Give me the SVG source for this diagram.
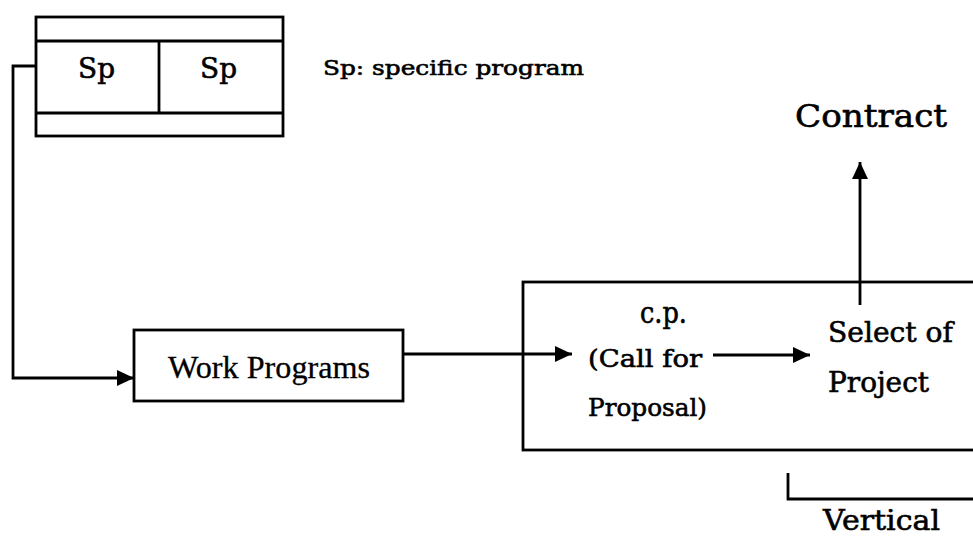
<svg xmlns="http://www.w3.org/2000/svg" width="973" height="537" viewBox="0 0 973 537">
  <style>
    .box { fill: #fff; stroke: #000; stroke-width: 2.8; }
    .ln { fill: none; stroke: #000; stroke-width: 2.8; }
    .cs { font-family: "DejaVu Serif", "Liberation Serif", serif; fill: #000; stroke: #000; stroke-width: 0.6; }
    .tm { font-family: "Liberation Serif", "Times New Roman", serif; fill: #000; stroke: #000; stroke-width: 0.3; }
  </style>
  <defs>
    <marker id="arrow" viewBox="0 0 17 16" refX="17" refY="8" markerWidth="17" markerHeight="16" markerUnits="userSpaceOnUse" orient="auto">
      <path d="M0,0 L17,8 L0,16 Z" fill="#000"/>
    </marker>
  </defs>

  <rect width="973" height="537" fill="#fff"/>

  <!-- framework programme with specific programmes -->
  <g id="framework">
    <rect class="box" x="36" y="17" width="247" height="119"/>
    <line class="ln" x1="36" y1="41" x2="283" y2="41"/>
    <line class="ln" x1="36" y1="113" x2="283" y2="113"/>
    <line class="ln" x1="159" y1="41" x2="159" y2="113"/>
    <text class="cs" x="78" y="78" font-size="28" textLength="37" lengthAdjust="spacingAndGlyphs">Sp</text>
    <text class="cs" x="200" y="78" font-size="28" textLength="37" lengthAdjust="spacingAndGlyphs">Sp</text>
  </g>

  <g id="legend">
    <text class="cs" x="323" y="75" font-size="21" textLength="261" lengthAdjust="spacingAndGlyphs">Sp: specific program</text>
  </g>

  <g id="work-programs">
    <rect class="box" x="134" y="330" width="269" height="71"/>
    <text class="tm" x="168" y="378" font-size="31" textLength="202" lengthAdjust="spacingAndGlyphs">Work Programs</text>
  </g>

  <g id="vertical-block">
    <rect class="box" x="523" y="282" width="460" height="168"/>
  </g>

  <g id="call-for-proposal">
    <text class="cs" x="640" y="323" font-size="29" textLength="47" lengthAdjust="spacingAndGlyphs">c.p.</text>
    <text class="cs" x="588" y="367" font-size="25" textLength="114" lengthAdjust="spacingAndGlyphs">(Call for</text>
    <text class="cs" x="588" y="416" font-size="25" textLength="119" lengthAdjust="spacingAndGlyphs">Proposal)</text>
  </g>

  <g id="select-project">
    <text class="cs" x="828" y="342" font-size="28" textLength="125" lengthAdjust="spacingAndGlyphs">Select of</text>
    <text class="cs" x="828" y="392" font-size="28" textLength="101" lengthAdjust="spacingAndGlyphs">Project</text>
  </g>

  <g id="contract">
    <text class="cs" x="795" y="127" font-size="32" textLength="152" lengthAdjust="spacingAndGlyphs">Contract</text>
  </g>

  <g id="vertical-label">
    <text class="cs" x="823" y="530" font-size="28" textLength="117" lengthAdjust="spacingAndGlyphs">Vertical</text>
  </g>

  <!-- connectors -->
  <g id="connectors">
    <polyline class="ln" points="36,66 13,66 13,378 134,378" marker-end="url(#arrow)"/>
    <line class="ln" x1="403" y1="354" x2="572" y2="354" marker-end="url(#arrow)"/>
    <line class="ln" x1="713" y1="355" x2="810" y2="355" marker-end="url(#arrow)"/>
    <line class="ln" x1="860" y1="305" x2="860" y2="162" marker-end="url(#arrow)"/>
    <polyline class="ln" points="788,473 788,499 975,499"/>
  </g>
</svg>
